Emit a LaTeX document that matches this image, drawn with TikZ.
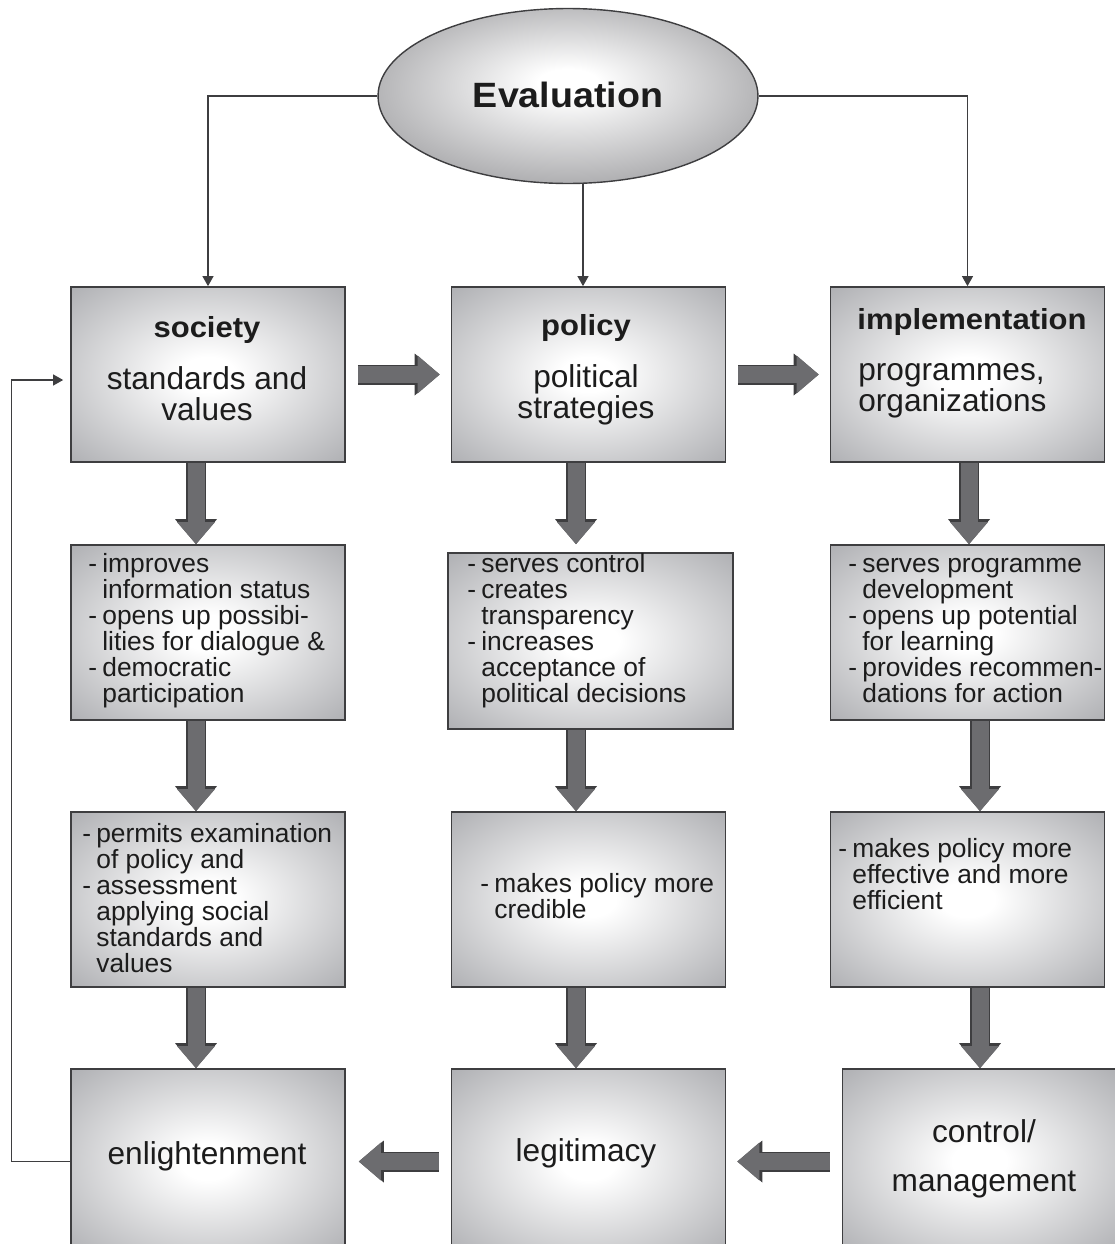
\documentclass[tikz,border=0pt]{standalone}
\usepackage{fontspec}
\setmainfont{Liberation Sans}
\newfontfamily\widesans{Liberation Sans}[FakeStretch=1.07]
\usetikzlibrary{arrows.meta,shapes.geometric}
\definecolor{G1}{RGB}{163,164,168}
\definecolor{G2}{RGB}{62,62,64}
\definecolor{G3}{RGB}{108,108,111}
\definecolor{G4}{RGB}{150,150,153}
\definecolor{T1}{RGB}{28,28,28}
\pgfdeclareradialshading{boxglow}{\pgfpoint{0bp}{0bp}}{color(0bp)=(white); color(5bp)=(white); color(40bp)=(G1); color(50bp)=(G1)}
\pgfdeclareradialshading{evalglow}{\pgfpoint{0bp}{4bp}}{color(0bp)=(white); color(4bp)=(white); color(34bp)=(G4); color(50bp)=(G4)}
\newcommand{\itd}{\makebox[0.28cm][l]{-}}
\newcommand{\itg}{\hspace*{0.28cm}}

\begin{document}
\begin{tikzpicture}[x=0.02cm, y=-0.02cm,
    pbox/.style={draw=G2, line width=1pt, shading=boxglow,
      minimum width=5.48cm, minimum height=3.5cm, inner sep=0pt},
    headtxt/.style={font=\widesans\bfseries\fontsize{16.5}{16.5}\selectfont, text=T1, anchor=base, inner sep=0pt},
    bodytxt/.style={font=\fontsize{18}{17.6}\selectfont, text=T1, align=center, anchor=north,
      inner sep=0pt, execute at begin node=\strut},
    listtxt/.style={font=\fontsize{15}{14.8}\selectfont, text=T1, align=left, anchor=north west,
      inner sep=0pt, execute at begin node=\strut},
    endtxt/.style={font=\fontsize{18}{18}\selectfont, text=T1, align=center, inner sep=0pt},
    thinarrow/.style={draw=G2, line width=0.6pt, -{Triangle[length=0.2cm, width=0.22cm]}},
    fatarrow/.style={draw=G3, line width=0.34cm, -{Triangle[length=0.44cm, width=0.76cm, line width=0pt]},
      preaction={draw=G2, line width=0.40cm, -{Triangle[length=0.5cm, width=0.84cm, line width=0pt]}}}
  ]
  \useasboundingbox (0,0) rectangle (1115,1244);

  % evaluation
  \node[ellipse, draw=G2, line width=0.8pt, shading=evalglow,
    minimum width=7.6cm, minimum height=3.5cm] (eval) at (568,96) {};
  \node[font=\widesans\bfseries\fontsize{20}{20}\selectfont, text=T1, anchor=base, inner sep=0pt] (evalt) at (568,107) {Evaluation};

  % boxes
  \node[pbox] (soc) at (208,374.5) {};
  \node[pbox] (pol) at (588.5,374.5) {};
  \node[pbox] (imp) at (967.5,374.5) {};
  \node[pbox] (soc2) at (208,632.5) {};
  \node[pbox, minimum width=5.7cm, minimum height=3.52cm] (pol2) at (590.5,641) {};
  \node[pbox] (imp2) at (967.5,632.5) {};
  \node[pbox] (soc3) at (208,899.5) {};
  \node[pbox] (pol3) at (588.5,899.5) {};
  \node[pbox] (imp3) at (967.5,899.5) {};
  \node[pbox, minimum height=3.7cm] (enl) at (208,1161.5) {};
  \node[pbox, minimum height=3.7cm] (leg) at (588.5,1161.5) {};
  \node[pbox, minimum height=3.7cm] (ctl) at (979.5,1161.5) {};

  % texts
  \node[headtxt] (soch) at (207,337) {society};
  \node[bodytxt] (socb) at (207,366) {standards and\\values};
  \node[headtxt] (polh) at (586,335) {policy};
  \node[bodytxt] (polb) at (586,364) {political\\strategies};
  \node[headtxt] (imph) at (972,329) {implementation};
  \node[bodytxt, align=left, anchor=north west] (impb) at (858,363) {programmes,\\organizations};

  \node[listtxt] (soc2t) at (88,553) {\itd improves\\\itg information status\\\itd opens up possibi-\\\itg lities for dialogue \&\\\itd democratic\\\itg participation};
  \node[listtxt] (pol2t) at (467,553) {\itd serves control\\\itd creates\\\itg transparency\\\itd increases\\\itg acceptance of\\\itg political decisions};
  \node[listtxt] (imp2t) at (848,558) {\itd serves programme\\\itg development\\\itd opens up potential\\\itg for learning\\\itd provides recommen-\\\itg dations for action};
  \node[listtxt] (soc3t) at (82,823) {\itd permits examination\\\itg of policy and\\\itd assessment\\\itg applying social\\\itg standards and\\\itg values};
  \node[listtxt] (pol3t) at (480,873) {\itd makes policy more\\\itg credible};
  \node[listtxt] (imp3t) at (838,838) {\itd makes policy more\\\itg effective and more\\\itg efficient};

  \node[endtxt] (enlt) at (207,1156.5) {enlightenment};
  \node[endtxt] (legt) at (586,1153.5) {legitimacy};
  \node[endtxt, font=\fontsize{18}{28}\selectfont] (ctlt) at (984,1159) {control/\\management};

  % thin connectors
  \coordinate (mid) at (583,0);
  \draw[thinarrow] (eval.west) -| (soc.north);
  \draw[thinarrow] (eval.south -| mid) -- (pol.north -| mid);
  \draw[thinarrow] (eval.east) -| (imp.north);
  \draw[thinarrow, shorten >=0.14cm] (enl.west) -- ++(-59,0) |- ([yshift=-0.11cm]soc.west);

  % fat arrows
  \coordinate (c1) at (196,0);
  \coordinate (c2) at (576,0);
  \coordinate (c3) at (969,0);
  \coordinate (c4) at (980,0);
  \draw[fatarrow, shorten <=0.24cm, shorten >=0.22cm] (soc.east) -- (pol.west);
  \draw[fatarrow, shorten <=0.24cm, shorten >=0.22cm] (pol.east) -- (imp.west);
  \draw[fatarrow] (soc.south -| c1) -- (soc2.north -| c1);
  \draw[fatarrow] (soc2.south -| c1) -- (soc3.north -| c1);
  \draw[fatarrow] (soc3.south -| c1) -- (enl.north -| c1);
  \draw[fatarrow, shorten >=0.16cm] (pol.south -| c2) -- (pol2.north -| c2);
  \draw[fatarrow] (pol2.south -| c2) -- (pol3.north -| c2);
  \draw[fatarrow] (pol3.south -| c2) -- (leg.north -| c2);
  \draw[fatarrow] (imp.south -| c3) -- (imp2.north -| c3);
  \draw[fatarrow] (imp2.south -| c4) -- (imp3.north -| c4);
  \draw[fatarrow] (imp3.south -| c4) -- (ctl.north -| c4);
  \draw[fatarrow, shorten <=0.24cm, shorten >=0.26cm] (leg.west) -- (enl.east);
  \draw[fatarrow, shorten <=0.24cm, shorten >=0.22cm] (ctl.west) -- (leg.east);
\end{tikzpicture}
\end{document}
